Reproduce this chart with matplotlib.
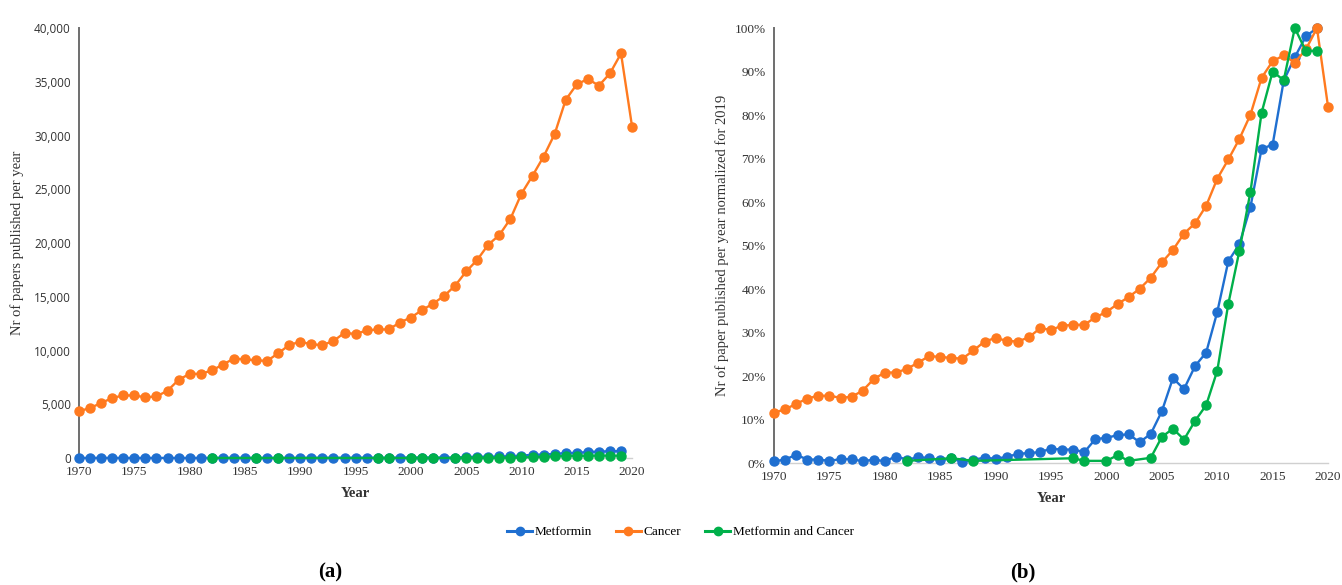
import matplotlib.pyplot as plt
from matplotlib.ticker import FuncFormatter, MultipleLocator
from matplotlib.lines import Line2D

# Papers per year
years = list(range(1970, 2021))
cancer_counts = [
    4350, 4650, 5120, 5580, 5820, 5820, 5640, 5730, 6260, 7270,
    7830, 7830, 8140, 8690, 9250, 9180, 9090, 9030, 9740, 10510,
    10820, 10570, 10510, 10880, 11650, 11530, 11870, 11960, 11960, 12600,
    13070, 13750, 14360, 15070, 16030, 17350, 18430, 19850, 20740, 22250,
    24590, 26260, 28040, 30140, 33320, 34760, 35260, 34640, 35780, 37630,
    30820,
]

# Metformin, share of peak year (%), 1970-2019
metformin_years = list(range(1970, 2020))
metformin_pct = [
    0.4, 0.8, 1.9, 0.8, 0.8, 0.5, 0.9, 0.9, 0.4, 0.8,
    0.4, 1.5, 0.8, 1.3, 1.2, 0.6, 1.1, 0.2, 0.8, 1.2,
    1.0, 1.4, 2.1, 2.3, 2.5, 3.3, 3.1, 3.1, 2.5, 5.5,
    5.8, 6.4, 6.6, 4.8, 6.7, 11.9, 19.5, 17.0, 22.3, 25.4,
    34.7, 46.4, 50.3, 58.9, 72.2, 73.2, 87.9, 93.3, 98.1, 100.0,
]
metformin_peak = 640

# Metformin and Cancer, share of peak year (%)
both_years = [1982, 1986, 1988, 1997, 1998, 2000, 2001, 2002, 2004, 2005,
              2006, 2007, 2008, 2009, 2010, 2011, 2012, 2013, 2014, 2015,
              2016, 2017, 2018, 2019]
both_pct = [0.5, 1.1, 0.5, 1.1, 0.5, 0.5, 1.8, 0.5, 1.2, 6.0,
            7.9, 5.4, 9.7, 13.3, 21.2, 36.6, 48.8, 62.4, 80.5, 90.0,
            88.0, 100.0, 94.7, 94.8]
both_peak = 230

labels = ["Metformin", "Cancer", "Metformin and Cancer"]
colors = ["#1f6fd0", "#ff7a1f", "#00b04a"]

metformin_counts = [p / 100 * metformin_peak for p in metformin_pct]
both_counts = [p / 100 * both_peak for p in both_pct]
cancer_pct = [c / cancer_counts[years.index(2019)] * 100 for c in cancer_counts]

serif = "Liberation Serif"
fig = plt.figure(figsize=(13.42, 5.85), dpi=100)
ax1 = fig.add_axes([0.0589, 0.2171, 0.4121, 0.7350])
ax2 = fig.add_axes([0.5768, 0.2085, 0.4128, 0.7436])

line_kw = dict(marker="o", markersize=6.5, linewidth=1.7, clip_on=False)


def style_axes(ax):
    for s in ["top", "right"]:
        ax.spines[s].set_visible(False)
    ax.spines["left"].set_color("#6e6e6e")
    ax.spines["left"].set_linewidth(1.4)
    ax.spines["bottom"].set_color("#d0d0d0")
    ax.spines["bottom"].set_linewidth(1.0)
    ax.tick_params(length=0, pad=6)
    ax.set_xlim(1970, 2020)
    ax.xaxis.set_major_locator(MultipleLocator(5))
    for t in ax.get_xticklabels():
        t.set_fontfamily(serif)
        t.set_fontsize(9.5)
        t.set_color("#333333")
    ax.set_xlabel("Year", fontfamily=serif, fontsize=10.5, color="#333333",
                  fontweight="bold", labelpad=6)


# (a) absolute counts
ax1.plot(metformin_years, metformin_counts, color=colors[0], zorder=3, **line_kw)
ax1.plot(years, cancer_counts, color=colors[1], zorder=3, **line_kw)
ax1.plot(both_years, both_counts, color=colors[2], zorder=4, **line_kw)
ax1.set_ylim(0, 40000)
ax1.yaxis.set_major_locator(MultipleLocator(5000))
ax1.yaxis.set_major_formatter(FuncFormatter(lambda v, p: f"{int(v):,}"))
style_axes(ax1)
for t in ax1.get_yticklabels():
    t.set_fontfamily("Open Sans")
    t.set_fontsize(8.5)
    t.set_color("#333333")
ax1.set_ylabel("Nr of papers published per year", fontfamily=serif,
               fontsize=10.5, color="#333333", labelpad=7)

# (b) normalized
ax2.plot(metformin_years, metformin_pct, color=colors[0], zorder=3, **line_kw)
ax2.plot(years, cancer_pct, color=colors[1], zorder=3, **line_kw)
ax2.plot(both_years, both_pct, color=colors[2], zorder=4, **line_kw)
ax2.set_ylim(0, 100)
ax2.yaxis.set_major_locator(MultipleLocator(10))
ax2.yaxis.set_major_formatter(FuncFormatter(lambda v, p: f"{int(v)}%"))
style_axes(ax2)
for t in ax2.get_yticklabels():
    t.set_fontfamily(serif)
    t.set_fontsize(9.5)
    t.set_color("#333333")
ax2.set_ylabel("Nr of paper published per year normalized for 2019",
               fontfamily=serif, fontsize=10.5, color="#333333", labelpad=4)

# shared legend
handles = [Line2D([], [], color=c, marker="o", markersize=6, linewidth=2.2)
           for c in colors]
fig.legend(handles, labels, loc="center", bbox_to_anchor=(0.507, 0.09),
           ncol=3, frameon=False, handlelength=1.9, handletextpad=0.2,
           columnspacing=1.8, prop={"family": serif, "size": 9.5})

fig.text(0.246, 0.022, "(a)", fontfamily=serif, fontsize=15, fontweight="bold",
         ha="center", va="center")
fig.text(0.762, 0.022, "(b)", fontfamily=serif, fontsize=15, fontweight="bold",
         ha="center", va="center")

fig.savefig("out.png", dpi=100)
